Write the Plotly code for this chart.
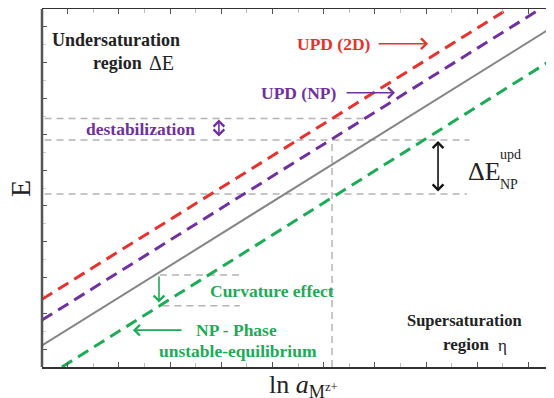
import plotly.graph_objects as go

# ---- data (axis units: x 0..20, y 0..10) ----
x_range = [0, 20]
y_range = [0, 10]

bulk_x = [0, 20]            # solid grey: bulk phase equilibrium
bulk_y = [0.60, 9.52]
upd2d_x = [0, 18.2]         # red dashed: UPD (2D)
upd2d_y = [1.89, 10.0]
updnp_x = [0, 19.46]        # purple dashed: UPD (NP)
updnp_y = [1.31, 10.0]
npphase_x = [0.78, 20]      # green dashed: NP phase
npphase_y = [0.0, 8.62]

ref_h_levels = [6.94, 6.34, 4.83]      # grey dashed horizontal guides
ref_h_x0 = [0.1, 0.1, 0.1]
ref_h_x1 = [12.7, 16.7, 16.6]
ref_v_x = [11.33, 11.33]               # grey dashed vertical guide
ref_v_y = [0.0, 6.34]
curv_levels = [2.57, 1.71]             # curvature-effect guides
curv_x0 = [4.61, 4.7]
curv_x1 = [7.73, 7.73]

RED = "#e8312c"
PURPLE = "#7030a0"
GREEN = "#1dab57"
GREY = "#858585"
GUIDE = "#b4b4b4"
SERIF = "Liberation Serif"

fig = go.Figure()

# guides
for lvl, a, b in zip(ref_h_levels, ref_h_x0, ref_h_x1):
    fig.add_trace(go.Scatter(x=[a, b], y=[lvl, lvl], mode="lines",
                             line=dict(color=GUIDE, width=1.5, dash="7px,5px"),
                             showlegend=False, hoverinfo="skip"))
fig.add_trace(go.Scatter(x=ref_v_x, y=ref_v_y, mode="lines",
                         line=dict(color=GUIDE, width=1.5, dash="7px,5px"),
                         showlegend=False, hoverinfo="skip"))
for lvl, a, b in zip(curv_levels, curv_x0, curv_x1):
    fig.add_trace(go.Scatter(x=[a, b], y=[lvl, lvl], mode="lines",
                             line=dict(color=GUIDE, width=1.5, dash="7px,5px"),
                             showlegend=False, hoverinfo="skip"))

# main lines
fig.add_trace(go.Scatter(x=bulk_x, y=bulk_y, mode="lines",
                         line=dict(color=GREY, width=2), showlegend=False))
fig.add_trace(go.Scatter(x=upd2d_x, y=upd2d_y, mode="lines",
                         line=dict(color=RED, width=3, dash="12px,7px"), showlegend=False))
fig.add_trace(go.Scatter(x=updnp_x, y=updnp_y, mode="lines",
                         line=dict(color=PURPLE, width=3, dash="12px,7px"), showlegend=False))
fig.add_trace(go.Scatter(x=npphase_x, y=npphase_y, mode="lines",
                         line=dict(color=GREEN, width=3, dash="12px,7px"), showlegend=False))

ann = []
def txt(x, y, s, color, size=17.5, bold=True, xanchor="left"):
    ann.append(dict(x=x, y=y, xref="x", yref="y", text=(f"<b>{s}</b>" if bold else s),
                    showarrow=False, xanchor=xanchor, yanchor="middle",
                    font=dict(family=SERIF, size=size, color=color)))

def arrow(x0, y0, x1, y1, color, both=False, width=1.6):
    ann.append(dict(x=x1, y=y1, ax=x0, ay=y0, xref="x", yref="y", axref="x", ayref="y",
                    text="", showarrow=True, arrowhead=4, arrowsize=1.3, arrowwidth=width,
                    arrowcolor=color, arrowside=("end+start" if both else "end"),
                    startarrowhead=4, startarrowsize=1.3))

txt(0.30, 9.14, "Undersaturation", "#222", size=18)
txt(1.90, 8.49, "region", "#222", size=18)
txt(4.10, 8.49, "ΔE", "#222", bold=False, size=20)
txt(9.88, 9.03, "UPD (2D)", RED)
arrow(13.09, 9.03, 15.08, 9.03, RED)
txt(11.56, 7.66, "UPD (NP)", PURPLE, xanchor="right")
arrow(11.84, 7.66, 13.79, 7.66, PURPLE)
txt(1.64, 6.66, "destabilization", PURPLE)
arrow(6.91, 6.40, 6.91, 6.91, PURPLE, both=True)
arrow(15.47, 4.86, 15.47, 6.31, "#111", both=True)
txt(16.55, 5.47, "ΔE", "#222", bold=False, size=26)
txt(17.8, 5.93, "upd", "#222", bold=False, size=14)
txt(17.8, 5.10, "NP", "#222", bold=False, size=14)
arrow(4.57, 2.57, 4.57, 1.80, GREEN)
txt(6.48, 2.11, "Curvature effect", GREEN)
arrow(5.51, 1.03, 3.55, 1.03, GREEN)
txt(5.94, 1.03, "NP - Phase", GREEN)
txt(4.49, 0.46, "unstable-equilibrium", GREEN)
txt(14.18, 1.31, "Supersaturation", "#222", size=16.5)
txt(15.60, 0.63, "region", "#222", size=17)
txt(17.75, 0.60, "η", "#222", bold=False, size=17)

# axis titles
ann.append(dict(x=-0.043, y=0.50, xref="paper", yref="paper", text="E", showarrow=False,
                textangle=-90, font=dict(family=SERIF, size=28, color="#222"),
                xanchor="center", yanchor="middle"))
ann.append(dict(x=0.44, y=-0.053, xref="paper", yref="paper",
                text="ln <i>a</i><sub>M<sup>z+</sup></sub>", showarrow=False,
                font=dict(family=SERIF, size=26, color="#222"),
                xanchor="left", yanchor="middle"))

axis_common = dict(showgrid=False, zeroline=False, showticklabels=False,
                   ticks="inside", ticklen=5, tickwidth=1.3, tickcolor="#555")

# the page body has an 8px default margin: shrink the figure so it ends at the window edge
fig.update_layout(
    width=546, height=390,
    margin=dict(l=34, r=0, t=1, b=31),
    paper_bgcolor="white", plot_bgcolor="white",
    annotations=ann,
    xaxis=dict(range=x_range, tick0=1, dtick=2, showline=True, linecolor="#333",
               linewidth=2, mirror="allticks",
               minor=dict(ticks="inside", ticklen=4, tickcolor="#bbb", dtick=1, tick0=0),
               **axis_common),
    yaxis=dict(range=y_range, tick0=0.5, dtick=1, showline=False, mirror="allticks",
               minor=dict(ticks="inside", ticklen=4, tickcolor="#ccc", dtick=1, tick0=0),
               **axis_common),
    shapes=[dict(type="line", xref="paper", yref="paper", x0=0, x1=0, y0=0, y1=1,
                 line=dict(color="#555", width=2.5))],
)

fig.write_html("out.html")
